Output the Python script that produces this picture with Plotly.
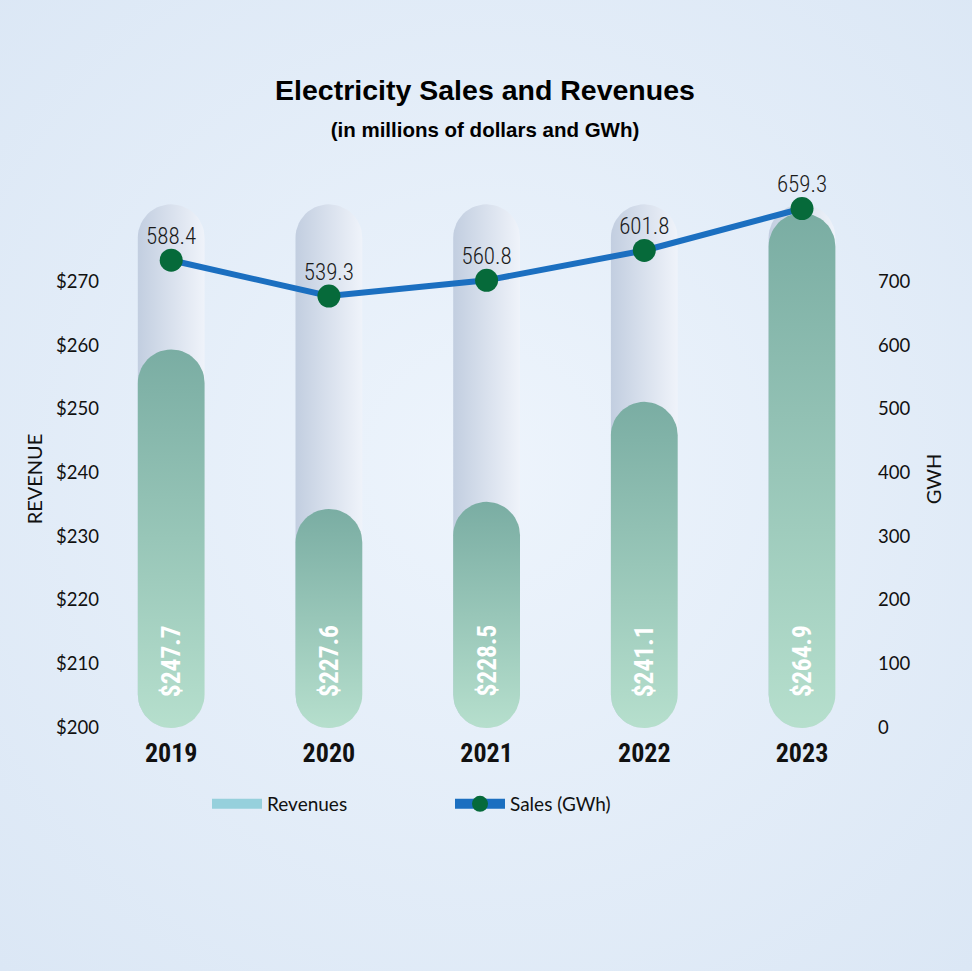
import math
import base64
import plotly.graph_objects as go

# ---------------- data ----------------
YEARS = ["2019", "2020", "2021", "2022", "2023"]
REVENUE = [247.7, 227.6, 228.5, 241.1, 264.9]        # millions of dollars
SALES = [588.4, 539.3, 560.8, 601.8, 659.3]          # GWh
REV_TICKS = [200, 210, 220, 230, 240, 250, 260, 270]
GWH_TICKS = [0, 100, 200, 300, 400, 500, 600, 700]
REV_BASE = 200          # revenue bars start here
TRACK_TOP = 266.0       # height of the pale "track" behind each bar

# ---------------- geometry (pixels) ----------------
W, H = 972, 971
PLOT_L, PLOT_R = 104, 873
PLOT_T, PLOT_B = 150, 732
AX_T, AX_B = 227, 731                 # domain of the visible value axes
X0_PX, DX_PX = 171.2, 157.7           # first category centre, category step
BAR_HW_PX = 33.4                      # half width of the pills

REV_AX_PX0, REV_AX_SCALE = 727.3, 6.366     # visible $ axis: px of $200, px per $
GWH_AX_PX0, GWH_AX_SCALE = 727.3, 0.6366    # visible GWh axis: px of 0, px per GWh
BAR_PX0, BAR_SCALE = 728.0, 7.935           # bar scale: px of REV_BASE, px per $
LINE_PX0, LINE_SCALE = 689.4, 0.7294        # line scale: px of 0 GWh, px per GWh

# ---------------- fonts / colours ----------------
NARROW = ("Roboto Condensed, Noto Sans Condensed, Liberation Sans Narrow, "
          "DejaVu Sans Condensed, sans-serif")
UI = "Lato, Open Sans, sans-serif"
TITLE_FONT = "Liberation Sans, Arial, sans-serif"
GREEN_TOP, GREEN_BOTTOM = "#7aada3", "#b6dfcd"
TRACK_LEFT, TRACK_RIGHT = "#c2cee0", "#eff3fa"
LINE_COLOR, MARKER_COLOR = "#1b6fc0", "#066a3a"
LEGEND_REV = "#96d0dc"

plot_w = PLOT_R - PLOT_L
plot_h = PLOT_B - PLOT_T


def px_range(px0, scale, v0, top_px, bottom_px):
    """axis range so that value v0 sits at px0 with `scale` px per unit"""
    lo = v0 - (bottom_px - px0) / scale
    hi = v0 + (px0 - top_px) / scale
    return [lo, hi]


x_range = [(PLOT_L - X0_PX) / DX_PX, (PLOT_R - X0_PX) / DX_PX]
bar_hw = BAR_HW_PX / DX_PX
bar_ry = BAR_HW_PX / BAR_SCALE


def pill(xc, y0, y1, n=28):
    xs, ys = [], []
    for k in range(n + 1):
        a = math.pi + math.pi * k / n
        xs.append(xc + bar_hw * math.cos(a))
        ys.append(y0 + bar_ry + bar_ry * math.sin(a))
    for k in range(n + 1):
        a = math.pi * k / n
        xs.append(xc + bar_hw * math.cos(a))
        ys.append(y1 - bar_ry + bar_ry * math.sin(a))
    xs.append(xs[0])
    ys.append(ys[0])
    return xs, ys


fig = go.Figure()

# anchor traces so that the two visible value axes are drawn
fig.add_trace(go.Scatter(x=[None], y=[None], xaxis="x", yaxis="y",
                         showlegend=False, hoverinfo="skip"))
fig.add_trace(go.Scatter(x=[None], y=[None], xaxis="x", yaxis="y2",
                         showlegend=False, hoverinfo="skip"))

# pale tracks
for i, yr in enumerate(YEARS):
    xs, ys = pill(i, REV_BASE, TRACK_TOP)
    fig.add_trace(go.Scatter(
        x=xs, y=ys, xaxis="x", yaxis="y3", mode="lines", fill="toself",
        line=dict(width=0, color=TRACK_RIGHT),
        fillgradient=dict(type="horizontal",
                          colorscale=[[0, TRACK_LEFT], [1, TRACK_RIGHT]]),
        hoverinfo="skip", showlegend=False))

# revenue pills
for i, (yr, v) in enumerate(zip(YEARS, REVENUE)):
    xs, ys = pill(i, REV_BASE, v)
    fig.add_trace(go.Scatter(
        x=xs, y=ys, xaxis="x", yaxis="y3", mode="lines", fill="toself",
        line=dict(width=0, color=GREEN_TOP),
        fillgradient=dict(type="vertical",
                          colorscale=[[0, GREEN_BOTTOM], [1, GREEN_TOP]]),
        name="Revenues", legendgroup="rev",
        hovertemplate=f"{yr}: ${v:.1f}M<extra></extra>", showlegend=False))

# sales line
fig.add_trace(go.Scatter(
    x=list(range(len(YEARS))), y=SALES, xaxis="x", yaxis="y4",
    mode="lines+markers",
    line=dict(color=LINE_COLOR, width=6),
    marker=dict(color=MARKER_COLOR, size=23),
    name="Sales (GWh)", showlegend=False,
    hovertemplate="%{y:.1f} GWh<extra></extra>"))

# sales value labels
fig.add_trace(go.Scatter(
    x=list(range(len(YEARS))), y=SALES, xaxis="x", yaxis="y4",
    mode="markers+text", marker=dict(size=15, color="rgba(0,0,0,0)"),
    text=[f"{s:.1f}" for s in SALES], textposition="top center",
    textfont=dict(family=NARROW, size=23, color="#1a1a1a", weight=300),
    cliponaxis=False, showlegend=False, hoverinfo="skip"))

# legend entries
fig.add_trace(go.Scatter(
    x=[None], y=[None], xaxis="x", yaxis="y3", mode="lines",
    line=dict(color=LEGEND_REV, width=12), name="Revenues"))
fig.add_trace(go.Scatter(
    x=[None], y=[None], xaxis="x", yaxis="y4", mode="lines+markers",
    line=dict(color=LINE_COLOR, width=10),
    marker=dict(color=MARKER_COLOR, size=23), name="Sales (GWh)"))

# value labels inside pills
annotations = []
for i, v in enumerate(REVENUE):
    annotations.append(dict(
        x=i, y=REV_BASE, xref="x", yref="y3", yshift=29,
        text=f"${v:.1f}", textangle=-90, showarrow=False,
        xanchor="center", yanchor="bottom",
        font=dict(family=NARROW, size=25.5, color="white", weight="bold")))

# radial background
svg = (
    f'<svg xmlns="http://www.w3.org/2000/svg" width="{W}" height="{H}">'
    '<defs><radialGradient id="g" cx="50%" cy="48%" r="72%">'
    '<stop offset="0" stop-color="#edf4fc"/>'
    '<stop offset="1" stop-color="#dbe7f5"/>'
    '</radialGradient></defs>'
    f'<rect width="{W}" height="{H}" fill="url(#g)"/></svg>'
)
bg_src = "data:image/svg+xml;base64," + base64.b64encode(svg.encode()).decode()

dom_vis = [(PLOT_B - AX_B) / plot_h, (PLOT_B - AX_T) / plot_h]

fig.update_layout(
    width=W, height=H, autosize=False,
    margin=dict(l=PLOT_L, r=W - PLOT_R, t=PLOT_T, b=H - PLOT_B, pad=0),
    paper_bgcolor="#e3edf8", plot_bgcolor="rgba(0,0,0,0)",
    images=[dict(source=bg_src, xref="paper", yref="paper",
                 x=-PLOT_L / plot_w, y=1 + PLOT_T / plot_h,
                 sizex=W / plot_w, sizey=H / plot_h,
                 xanchor="left", yanchor="top", sizing="stretch",
                 layer="below")],
    title=dict(
        text="Electricity Sales and Revenues<br>"
             "<span style='font-size:20.5px'>(in millions of dollars and GWh)</span>",
        font=dict(family=TITLE_FONT, size=28.5, color="#000", weight="bold"),
        x=485 / W, xanchor="center", xref="container",
        y=1 - 100 / H, yanchor="top", yref="container"),
    xaxis=dict(range=x_range, tickvals=list(range(len(YEARS))), ticktext=YEARS,
               showgrid=False, zeroline=False, showline=False,
               ticks="", ticklabelstandoff=3,
               tickfont=dict(family=NARROW, size=26, color="#111", weight="bold"),
               anchor="y3", fixedrange=True),
    yaxis=dict(domain=dom_vis, anchor="x",
               range=px_range(REV_AX_PX0, REV_AX_SCALE, REV_BASE, AX_T, AX_B),
               tickvals=REV_TICKS, ticktext=[f"${t}" for t in REV_TICKS],
               showgrid=False, zeroline=False, showline=False,
               ticklabelstandoff=4,
               tickfont=dict(family=UI, size=18.5, color="#111"),
               title=dict(text="REVENUE", font=dict(family=UI, size=20, color="#111"),
                          standoff=8),
               fixedrange=True),
    yaxis2=dict(overlaying="y", side="right", anchor="x",
                range=px_range(GWH_AX_PX0, GWH_AX_SCALE, 0, AX_T, AX_B),
                tickvals=GWH_TICKS, showgrid=False, zeroline=False, showline=False,
                ticklabelstandoff=4,
                tickfont=dict(family=UI, size=18.5, color="#111"),
                title=dict(text="GWH", font=dict(family=UI, size=20, color="#111"),
                           standoff=17),
                fixedrange=True),
    yaxis3=dict(domain=[0, 1], anchor="x", visible=False,
                range=px_range(BAR_PX0, BAR_SCALE, REV_BASE, PLOT_T, PLOT_B),
                fixedrange=True),
    yaxis4=dict(overlaying="y3", anchor="x", visible=False,
                range=px_range(LINE_PX0, LINE_SCALE, 0, PLOT_T, PLOT_B),
                fixedrange=True),
    legend=dict(orientation="h", xref="container", yref="container",
                x=207 / W, xanchor="left", y=1 - 804 / H, yanchor="middle",
                font=dict(family=UI, size=19, color="#111"),
                bgcolor="rgba(0,0,0,0)", itemwidth=50, entrywidth=178,
                traceorder="normal"),
    annotations=annotations,
    showlegend=True,
)

fig.write_html("out.html", config={"displayModeBar": False},
               post_script="document.body.style.margin='0';")
